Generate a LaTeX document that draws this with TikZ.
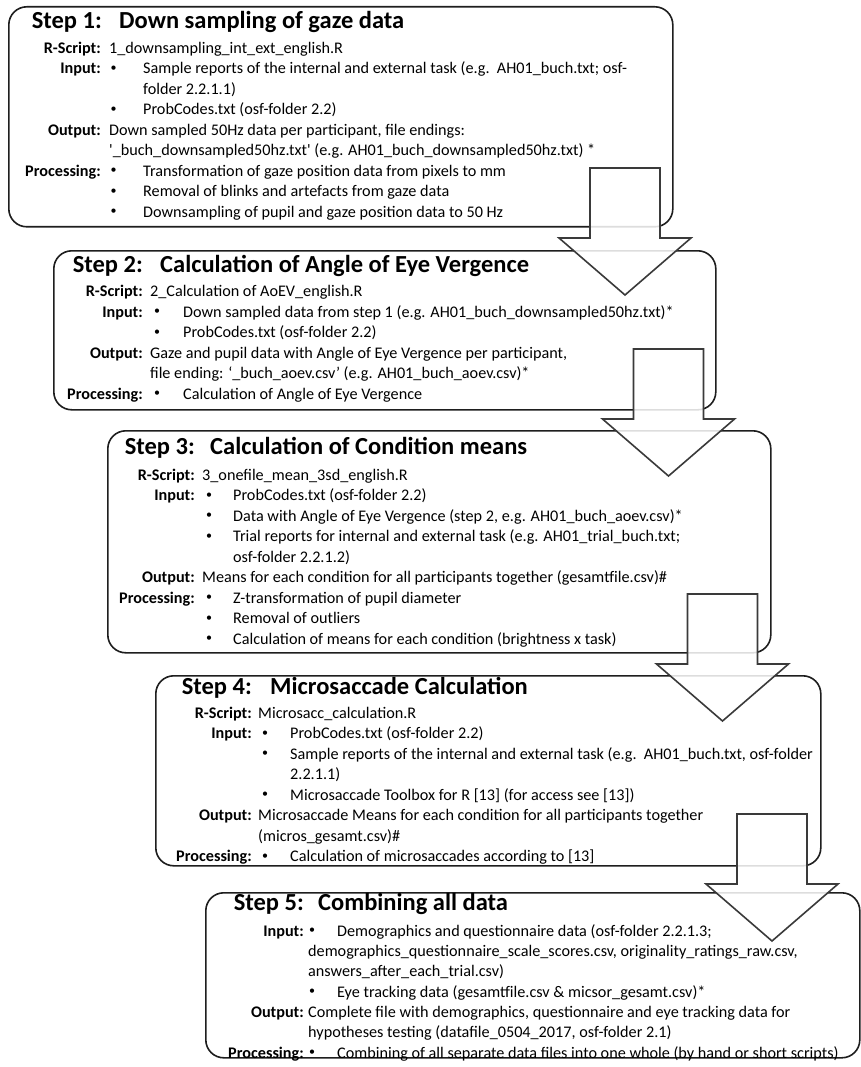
\documentclass[tikz,border=0pt]{standalone}
\usepackage{fontspec}
\setmainfont{Carlito}
\definecolor{boxc}{HTML}{1E1E1E}
\definecolor{arrc}{HTML}{3A3A3A}
\newcommand\bodyfs{\fontsize{16.2pt}{19pt}\selectfont}
\newcommand\ttlfs{\fontsize{24.5pt}{29pt}\selectfont}
\newcommand\Lb[4]{\node[lab] (#1) at (#2,#3) {#4};}
\newcommand\Tx[4]{\node[txt] (#1) at (#2,#3) {#4};}
\newcommand\Bu[5]{\node[bul] (#1b) at (#2,#3) {\textbullet}; \node[txt] (#1) at (#4,#3) {#5};}
\newcommand\Ttl[6]{\node[ttlL] (#1n) at (#2,#4) {#5}; \node[ttlR] (#1t) at (#3,#4) {#6};}
\newcommand\BlockArrow[3]{%
  \coordinate (#1) at (#2,#3);
  \draw[blockarrow] ([xshift=-35pt]#1) -- ([xshift=35pt]#1) -- ([xshift=35pt,yshift=-70pt]#1)
    -- ([xshift=66pt,yshift=-70pt]#1) -- ([yshift=-127pt]#1) -- ([xshift=-66pt,yshift=-70pt]#1)
    -- ([xshift=-35pt,yshift=-70pt]#1) -- cycle;}
\tikzset{
  stepbox/.style={draw=boxc, line width=1.6pt, rounded corners=18pt, anchor=north west, inner sep=0pt},
  lab/.style={font=\bodyfs\bfseries, anchor=mid east, inner sep=0pt},
  txt/.style={font=\bodyfs, anchor=mid west, inner sep=0pt},
  bul/.style={font=\fontsize{12pt}{13pt}\selectfont, anchor=center, inner sep=0pt, yshift=3pt},
  ttlL/.style={font=\ttlfs\bfseries, anchor=mid east, inner sep=0pt},
  ttlR/.style={font=\ttlfs\bfseries, anchor=mid west, inner sep=0pt},
  blockarrow/.style={draw=arrc, line width=1.6pt, fill=white, fill opacity=0.85, line join=miter},
}
\begin{document}
\begin{tikzpicture}[x=1pt,y=-1pt]
\useasboundingbox[fill=white] (0,0) rectangle (861,1067);
% boxes
\node[stepbox, minimum width=664pt, minimum height=220pt] (box1) at (8,6) {};
\node[stepbox, minimum width=662pt, minimum height=159pt] (box2) at (53,250) {};
\node[stepbox, minimum width=663pt, minimum height=222pt] (box3) at (107,430) {};
\node[stepbox, minimum width=665pt, minimum height=190pt] (box4) at (155,675) {};
\node[stepbox, minimum width=654pt, minimum height=165pt] (box5) at (205,892) {};
% Step 1
\Ttl{s1}{102}{119}{26}{Step 1:}{Down sampling of gaze data}
\Lb{s1rl}{101}{51}{R-Script:}
\Tx{s1r}{109}{51}{1\_downsampling\_int\_ext\_english.R}
\Lb{s1il}{101}{71.5}{Input:}
\Bu{s1i1}{113.5}{71.5}{143}{Sample reports of the internal and external task (e.g.\ \ AH01\_buch.txt; osf-}
\Tx{s1i1c}{143}{92}{folder 2.2.1.1)}
\Bu{s1i2}{113.5}{112.5}{143}{ProbCodes.txt (osf-folder 2.2)}
\Lb{s1ol}{101}{133}{Output:}
\Tx{s1o1}{109}{133}{Down sampled 50Hz data per participant, file endings:}
\Tx{s1o2}{109}{153.5}{\textquotesingle\_buch\_downsampled50hz.txt\textquotesingle\ (e.g. AH01\_buch\_downsampled50hz.txt) *}
\Lb{s1pl}{101}{174}{Processing:}
\Bu{s1p1}{113.5}{174}{143}{Transformation of gaze position data from pixels to mm}
\Bu{s1p2}{113.5}{194.5}{143}{Removal of blinks and artefacts from gaze data}
\Bu{s1p3}{113.5}{215}{143}{Downsampling of pupil and gaze position data to 50 Hz}
% Step 2
\Ttl{s2}{143}{160}{270}{Step 2:}{Calculation of Angle of Eye Vergence}
\Lb{s2rl}{143}{294.5}{R-Script:}
\Tx{s2r}{150}{294.5}{2\_Calculation of AoEV\_english.R}
\Lb{s2il}{143}{315}{Input:}
\Bu{s2i1}{157}{315}{183}{Down sampled data from step 1 (e.g. AH01\_buch\_downsampled50hz.txt)*}
\Bu{s2i2}{157}{335.5}{183}{ProbCodes.txt (osf-folder 2.2)}
\Lb{s2ol}{143}{356}{Output:}
\Tx{s2o1}{150}{356}{Gaze and pupil data with Angle of Eye Vergence per participant,}
\Tx{s2o2}{150}{376.5}{file ending: ‘\_buch\_aoev.csv’ (e.g. AH01\_buch\_aoev.csv)*}
\Lb{s2pl}{143}{397}{Processing:}
\Bu{s2p1}{157}{397}{183}{Calculation of Angle of Eye Vergence}
% Step 3
\Ttl{s3}{195}{210}{452}{Step 3:}{Calculation of Condition means}
\Lb{s3rl}{195}{478}{R-Script:}
\Tx{s3r}{202}{478}{3\_onefile\_mean\_3sd\_english.R}
\Lb{s3il}{195}{498.5}{Input:}
\Bu{s3i1}{209}{498.5}{233}{ProbCodes.txt (osf-folder 2.2)}
\Bu{s3i2}{209}{519}{233}{Data with Angle of Eye Vergence (step 2, e.g. AH01\_buch\_aoev.csv)*}
\Bu{s3i3}{209}{539.5}{233}{Trial reports for internal and external task (e.g. AH01\_trial\_buch.txt;}
\Tx{s3i3c}{233}{560}{osf-folder 2.2.1.2)}
\Lb{s3ol}{195}{580.5}{Output:}
\Tx{s3o1}{202}{580.5}{Means for each condition for all participants together (gesamtfile.csv)\#}
\Lb{s3pl}{195}{601}{Processing:}
\Bu{s3p1}{209}{601}{233}{Z-transformation of pupil diameter}
\Bu{s3p2}{209}{621.5}{233}{Removal of outliers}
\Bu{s3p3}{209}{642}{233}{Calculation of means for each condition (brightness x task)}
% Step 4
\Ttl{s4}{252}{270}{692}{Step 4:}{Microsaccade Calculation}
\Lb{s4rl}{252}{716}{R-Script:}
\Tx{s4r}{258}{716}{Microsacc\_calculation.R}
\Lb{s4il}{252}{736.5}{Input:}
\Bu{s4i1}{265}{736.5}{290}{ProbCodes.txt (osf-folder 2.2)}
\Bu{s4i2}{265}{757}{290}{Sample reports of the internal and external task (e.g.\ \ AH01\_buch.txt, osf-folder}
\Tx{s4i2c}{290}{777.5}{2.2.1.1)}
\Bu{s4i3}{265}{798}{290}{Microsaccade Toolbox for R [13] (for access see [13])}
\Lb{s4ol}{252}{818.5}{Output:}
\Tx{s4o1}{258}{818.5}{Microsaccade Means for each condition for all participants together}
\Tx{s4o2}{258}{839}{(micros\_gesamt.csv)\#}
\Lb{s4pl}{252}{859.5}{Processing:}
\Bu{s4p1}{265}{859.5}{290}{Calculation of microsaccades according to [13]}
% Step 5
\Ttl{s5}{304}{318}{908}{Step 5:}{Combining all data}
\Lb{s5il}{304}{934}{Input:}
\Bu{s5i1}{312}{934}{337}{Demographics and questionnaire data (osf-folder 2.2.1.3;}
\Tx{s5i1c}{308}{954.3}{demographics\_questionnaire\_scale\_scores.csv, originality\_ratings\_raw.csv,}
\Tx{s5i1d}{308}{974.6}{answers\_after\_each\_trial.csv)}
\Bu{s5i2}{312}{994.9}{337}{Eye tracking data (gesamtfile.csv \& micsor\_gesamt.csv)*}
\Lb{s5ol}{304}{1015.2}{Output:}
\Tx{s5o1}{308}{1015.2}{Complete file with demographics, questionnaire and eye tracking data for}
\Tx{s5o2}{308}{1035.5}{hypotheses testing (datafile\_0504\_2017, osf-folder 2.1)}
\Lb{s5pl}{304}{1055.8}{Processing:}
\Bu{s5p1}{312}{1055.8}{337}{Combining of all separate data files into one whole (by hand or short scripts)}
% arrows
\BlockArrow{a1}{625}{168}
\BlockArrow{a2}{668.5}{349}
\BlockArrow{a3}{722.5}{594}
\BlockArrow{a4}{772}{814}
\end{tikzpicture}
\end{document}
